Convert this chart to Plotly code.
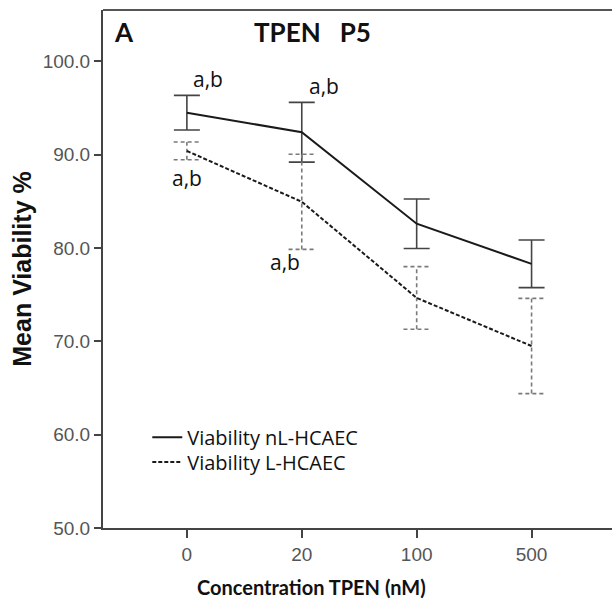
import plotly.graph_objects as go

concentrations = ["0", "20", "100", "500"]
nl_mean = [94.5, 92.4, 82.6, 78.3]
nl_err = [1.85, 3.2, 2.65, 2.55]
l_mean = [90.4, 84.95, 74.65, 69.5]
l_err = [0.95, 5.1, 3.35, 5.1]
labels = ["a,b", "a,b", "a,b", "a,b"]

xpos = list(range(len(concentrations)))

fig = go.Figure()

fig.add_trace(go.Scatter(
    x=xpos, y=nl_mean, mode="lines", name="Viability nL-HCAEC", legend="legend",
    line=dict(color="#1a1a1a", width=2),
    error_y=dict(type="data", array=nl_err, color="#444444", thickness=1.6, width=13),
))

# dashed error bars for the L-HCAEC series (plotly error bars can't be dashed)
cap = 0.115
ex, ey = [], []
for i, (m, e) in enumerate(zip(l_mean, l_err)):
    ex += [i, i, None, i - cap, i + cap, None, i - cap, i + cap, None]
    ey += [m - e, m + e, None, m + e, m + e, None, m - e, m - e, None]
fig.add_trace(go.Scatter(
    x=ex, y=ey, mode="lines", showlegend=False, hoverinfo="skip",
    line=dict(color="#7a7a7a", width=1.6, dash="4px,3px"),
))

fig.add_trace(go.Scatter(
    x=xpos, y=l_mean, mode="lines", name="Viability L-HCAEC", legend="legend2",
    line=dict(color="#1a1a1a", width=2, dash="4px,2px"),
))

txt = dict(family="Open Sans, sans-serif", size=21, color="#111111")
# significance labels
fig.add_annotation(x=xpos[0], y=nl_mean[0] + nl_err[0], text=labels[0], showarrow=False,
                   xshift=21, yshift=16, font=txt)
fig.add_annotation(x=xpos[1], y=nl_mean[1] + nl_err[1], text=labels[1], showarrow=False,
                   xshift=22, yshift=16, font=txt)
fig.add_annotation(x=xpos[0], y=l_mean[0] - l_err[0], text=labels[0], showarrow=False,
                   xshift=0, yshift=-18, font=txt)
fig.add_annotation(x=xpos[1], y=l_mean[1] - l_err[1], text=labels[1], showarrow=False,
                   xshift=-17, yshift=-13, font=txt)

bold = dict(family="Lato, Open Sans, sans-serif", size=26, color="#111111")
fig.add_annotation(xref="paper", yref="paper", x=0.0175, y=0.992, text="<b>A</b>",
                   showarrow=False, xanchor="left", yanchor="top", font=bold)
fig.add_annotation(xref="paper", yref="paper", x=0.411, y=0.992, text="<b>TPEN&nbsp;&nbsp;&nbsp;P5</b>",
                   showarrow=False, xanchor="center", yanchor="top", font=bold)
fig.add_annotation(xref="paper", yref="paper", x=0.409, y=-0.114, text="<b>Concentration TPEN (nM)</b>",
                   showarrow=False, xanchor="center", yanchor="middle",
                   font=dict(family="Lato, Open Sans, sans-serif", size=20, color="#111111"))

# top frame line (no right-hand border in the original)
fig.add_shape(type="line", xref="paper", yref="paper", x0=0, x1=1, y0=1, y1=1,
              line=dict(color="#555555", width=2))

tickfont = dict(family="Liberation Sans Narrow, Liberation Sans, sans-serif", size=19, color="#555555")
leg = dict(xanchor="left", yanchor="top", bgcolor="rgba(0,0,0,0)",
           font=dict(family="Open Sans, sans-serif", size=20, color="#111111"),
           itemwidth=30)

fig.update_layout(
    width=612, height=602,
    margin=dict(l=103, r=0, t=10, b=74),
    plot_bgcolor="white", paper_bgcolor="white",
    showlegend=True,
    legend=dict(x=0.087, y=0.213, **leg),
    legend2=dict(x=0.087, y=0.165, **leg),
    xaxis=dict(
        range=[-0.73, 3.70], tickvals=xpos, ticktext=concentrations,
        showgrid=False, zeroline=False,
        showline=True, linecolor="#444444", linewidth=2, mirror=False,
        ticks="outside", ticklen=8, tickcolor="#444444", tickwidth=1.5,
        tickfont=tickfont,
    ),
    yaxis=dict(
        range=[50, 105.5], tickvals=[50, 60, 70, 80, 90, 100], tickformat=".1f",
        showgrid=False, zeroline=False,
        showline=True, linecolor="#444444", linewidth=2, mirror=False,
        ticks="outside", ticklen=7, tickcolor="#444444", tickwidth=1.5,
        tickfont=tickfont,
        title=dict(text="<b>Mean Viability %</b>",
                   font=dict(family="Liberation Sans, Arial, sans-serif", size=25, color="#111111"),
                   standoff=4),
    ),
)

fig.write_html("out.html", config={"displayModeBar": False},
               post_script="document.body.style.margin='0';document.body.style.overflow='hidden';")
